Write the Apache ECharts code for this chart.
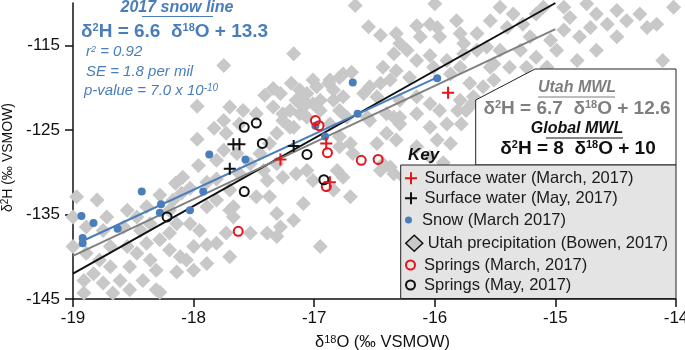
<!DOCTYPE html>
<html>
<head>
<meta charset="utf-8">
<script src="https://cdn.jsdelivr.net/npm/echarts@6/dist/echarts.min.js"></script>
<style>
  html, body { margin: 0; padding: 0; background: #fff; }
  #chart { width: 685px; height: 350px; }
</style>
</head>
<body>
<div id="chart"></div>
<script>
// δ18O, δ2H pairs (‰ VSMOW)
const utahPrecip = [
  [-17.97,-122.2],[-17.75,-123.9],[-17.83,-124.8],[-17.97,-126.1],[-17.73,-125.4],[-17.75,-127.4],
  [-17.96,-129.2],[-17.81,-128.6],[-18.09,-130.6],[-18.15,-131.3],[-18.03,-131.9],[-17.89,-131.2],
  [-17.81,-130.8],[-17.70,-132.1],[-18.97,-132.9],[-18.80,-133.3],[-18.72,-135.3],[-18.55,-134.5],
  [-18.47,-135.3],[-18.39,-134.1],[-18.28,-132.7],[-18.17,-133.3],[-18.10,-132.5],[-18.20,-134.5],
  [-17.89,-134.1],[-17.81,-133.3],[-17.67,-134.1],[-19.00,-135.3],[-18.89,-136.5],[-18.75,-136.9],
  [-18.58,-136.5],[-18.44,-136.9],[-18.36,-136.1],[-18.14,-136.1],[-18.03,-136.1],[-17.95,-136.9],
  [-17.89,-138.6],[-17.81,-138.4],[-17.73,-137.2],[-17.70,-140.0],[-19.00,-138.8],[-18.89,-139.6],
  [-18.78,-140.4],[-18.69,-138.8],[-18.55,-138.8],[-18.47,-139.6],[-18.39,-138.4],[-18.28,-138.0],
  [-18.20,-139.2],[-18.11,-140.0],[-18.00,-138.8],[-18.20,-137.2],[-18.36,-140.4],[-18.53,-141.2],
  [-18.69,-141.2],[-18.91,-142.8],[-18.83,-142.0],[-18.75,-143.1],[-18.61,-142.8],[-18.53,-143.9],
  [-18.42,-142.8],[-18.31,-141.6],[-18.14,-141.8],[-18.00,-141.6],[-17.89,-140.8],[-18.06,-140.4],
  [-18.91,-144.3],[-18.67,-144.3],[-18.31,-143.9],[-18.28,-144.2],[-17.70,-134.5],
  [-17.09,-122.3],[-17.01,-121.9],[-17.26,-123.9],[-17.17,-124.7],[-17.31,-125.4],[-17.37,-126.6],
  [-17.45,-127.8],[-17.53,-129.0],[-17.64,-127.8],[-17.62,-130.2],[-17.42,-129.8],[-17.31,-129.0],
  [-17.39,-131.0],[-17.26,-130.6],[-17.15,-130.2],[-17.06,-129.8],[-17.01,-131.0],[-16.81,-129.8],
  [-16.76,-130.6],[-16.84,-132.1],[-16.70,-132.9],[-17.48,-132.9],[-17.37,-132.9],[-17.31,-134.9],
  [-17.17,-135.7],[-17.28,-136.5],[-17.09,-133.7],[-17.39,-137.2],[-17.53,-137.2],[-17.31,-137.6],
  [-17.67,-135.3],[-16.95,-138.8],[-16.79,-127.0],[-16.70,-126.6],[-16.68,-127.8],[-16.79,-125.8],
  [-16.40,-125.4],[-16.32,-126.2],[-16.29,-124.3],[-16.34,-123.5],[-16.54,-123.9],[-16.73,-123.5],
  [-16.87,-124.3],[-16.48,-126.6],[-16.37,-129.4],[-16.45,-129.8],[-16.26,-130.6],[-17.70,-122.3],
  [-17.62,-124.3],[-17.48,-123.1],[-17.15,-121.5],
  [-16.66,-110.3],[-16.00,-110.1],[-16.55,-112.8],[-16.45,-113.8],[-16.32,-113.6],[-16.29,-114.8],
  [-16.15,-112.7],[-16.12,-114.0],[-15.98,-112.9],[-15.96,-114.0],[-15.82,-112.1],[-15.79,-113.6],
  [-15.76,-114.8],[-16.34,-116.0],[-16.23,-115.6],[-16.15,-116.8],[-16.04,-116.2],[-16.01,-117.6],
  [-15.90,-116.8],[-15.87,-118.4],[-15.79,-117.6],[-15.76,-116.0],[-15.65,-113.6],[-15.65,-115.6],
  [-15.71,-119.5],[-15.68,-121.1],[-15.79,-121.5],[-15.57,-115.2],[-15.54,-117.6],[-16.43,-117.6],
  [-16.32,-118.0],[-16.21,-118.8],[-16.37,-119.1],[-16.45,-119.5],[-16.54,-119.9],[-16.59,-120.7],
  [-16.76,-118.4],[-16.87,-119.1],[-16.98,-119.9],[-17.06,-120.7],[-16.84,-120.3],[-16.76,-121.1],
  [-16.48,-121.1],[-16.29,-121.5],[-16.15,-121.1],[-16.04,-121.9],[-15.96,-122.7],[-16.29,-123.5],
  [-16.15,-123.1],[-16.40,-123.1],[-16.56,-123.5],[-17.09,-121.5],[-17.12,-123.1],[-15.90,-124.3],
  [-15.74,-122.7],
  [-15.46,-110.5],[-15.35,-111.3],[-15.54,-112.1],[-15.40,-112.9],[-15.27,-112.5],[-15.16,-111.3],
  [-15.10,-110.5],[-14.93,-110.5],[-14.88,-111.7],[-14.74,-110.1],[-14.66,-111.3],[-14.49,-110.9],
  [-14.41,-112.1],[-14.30,-111.3],[-14.24,-112.9],[-14.16,-112.5],[-14.02,-110.5],[-14.71,-112.9],
  [-14.57,-112.5],[-14.49,-114.0],[-14.80,-114.0],[-14.93,-113.2],[-15.04,-114.4],[-15.21,-114.0],
  [-15.29,-115.6],[-15.46,-115.6],[-15.51,-117.2],[-15.38,-117.6],[-15.24,-117.6],[-14.82,-116.8],
  [-14.11,-116.8],[-15.51,-119.1],[-15.60,-119.9],[-15.51,-121.1],[-15.07,-117.6],[-15.16,-116.4],
  [-14.99,-115.6],[-14.66,-115.6],
  [-17.75,-117.4],[-17.17,-116.0],[-17.34,-120.1],[-17.41,-120.9],[-17.28,-120.7],[-17.19,-119.5],
  [-17.12,-120.3],[-17.01,-119.1],[-16.88,-119.5],[-16.79,-118.8],[-16.69,-118.2],[-17.20,-122.7],
  [-17.06,-123.5],[-16.95,-122.7],[-16.79,-122.7],[-16.84,-121.5],[-16.95,-121.5],[-17.26,-123.1],
  [-17.20,-124.7],[-17.59,-122.7],[-17.34,-122.3],[-16.04,-112.5],
  [-16.43,-129.0],[-16.34,-130.2],[-15.81,-122.7],[-15.69,-121.9],[-15.78,-124.3],[-16.04,-124.7],
  [-16.15,-127.0],[-15.98,-126.2],[-15.87,-126.6],[-16.04,-128.2],[-15.93,-128.9]
];

const snow = [
  [-18.93,-135.2],[-18.83,-136.0],[-18.92,-137.8],[-18.92,-138.4],[-18.63,-136.7],[-18.43,-132.3],
  [-18.27,-133.8],[-18.28,-134.8],[-18.03,-134.5],[-17.92,-132.3],[-17.87,-127.9],[-17.57,-128.5],
  [-16.91,-125.8],[-16.99,-124.5],[-16.64,-123.1],[-16.68,-119.4],[-15.98,-118.9]
];
const surfaceMarch = [[-17.28,-128.5],[-16.90,-126.6],[-15.89,-120.6],[-16.87,-131.2]];
const surfaceMay = [[-17.67,-126.7],[-17.62,-126.7],[-17.70,-129.6],[-17.17,-126.9]];
const springsMarch = [
  [-16.99,-123.9],[-16.96,-124.5],[-16.89,-127.7],[-16.61,-128.6],[-16.47,-128.5],
  [-16.90,-131.7],[-17.63,-137.0]
];
const springsMay = [
  [-17.58,-124.7],[-17.48,-124.2],[-17.43,-126.6],[-17.06,-127.9],[-16.92,-130.9],
  [-17.58,-132.3],[-18.22,-135.3]
];

// regression / meteoric water line end points
const globalMWL = [[-19, -142], [-15, -110]];
const utahMWL = [[-19, -139.9], [-15, -113.1]];
const snowLine = [[-18.93, -138.2], [-15.98, -118.8]];

const xTicks = [-19, -18, -17, -16, -15, -14];
const yTicks = [-145, -135, -125, -115];

const FONT = '"Liberation Sans", Arial, sans-serif';
const BLUE = '#4a7ebb';
const RED = '#e3141c';
const BLACK = '#111111';
const GREY = '#c8c8c8';
const PLUS = 'path://M5,0h2v5h5v2h-5v5h-2v-5h-5v-2h5z';

const chart = echarts.init(document.getElementById('chart'), null, { renderer: 'canvas' });

const legendItem = (name, top, h, extra) => Object.assign({
  show: true,
  orient: 'vertical',
  left: 405,
  top: top,
  padding: 0,
  itemWidth: 17,
  itemHeight: h,
  z: 300,
  selectedMode: false,
  textStyle: { fontSize: 16.5, fontFamily: FONT, color: '#1a1a1a', lineHeight: 18 },
  data: [name]
}, extra || {});

const option = {
  backgroundColor: '#fff',
  animation: false,
  textStyle: { fontFamily: FONT },
  grid: { left: 73, right: 9, top: 3, bottom: 51, containLabel: false, outerBoundsMode: 'none' },
  xAxis: {
    type: 'value',
    min: -19, max: -14, interval: 1,
    name: '{a|δ}{s|18}{a|O (‰ VSMOW)}',
    nameLocation: 'middle',
    nameGap: 35,
    nameTextStyle: {
      padding: [0, 0, 0, 16],
      rich: {
        a: { fontSize: 16.5, fontFamily: FONT, color: BLACK },
        s: { fontSize: 11, fontFamily: FONT, color: BLACK, verticalAlign: 'top', padding: [0, 0, 6, 0] }
      }
    },
    axisLine: { show: true, onZero: false, lineStyle: { color: BLACK, width: 1.5 } },
    axisTick: { show: true, inside: false, length: 8, customValues: xTicks, lineStyle: { color: BLACK, width: 1.5 } },
    axisLabel: { customValues: xTicks, fontSize: 17, fontFamily: FONT, color: BLACK, margin: 11, hideOverlap: false },
    splitLine: { show: false }
  },
  yAxis: {
    type: 'value',
    min: -145, max: -110, interval: 10,
    name: '{a|δ}{s|2}{a|H (‰ VSMOW)}',
    nameLocation: 'middle',
    nameGap: 50,
    nameTextStyle: {
      padding: [0, 13, 0, 0],
      rich: {
        a: { fontSize: 14, fontFamily: FONT, color: BLACK },
        s: { fontSize: 10, fontFamily: FONT, color: BLACK, verticalAlign: 'top', padding: [0, 0, 5, 0] }
      }
    },
    axisLine: { show: true, onZero: false, lineStyle: { color: BLACK, width: 1.5 } },
    axisTick: { show: true, inside: false, length: 8, customValues: yTicks, lineStyle: { color: BLACK, width: 1.5 } },
    axisLabel: { customValues: yTicks, fontSize: 17, fontFamily: FONT, color: BLACK, margin: 13 },
    splitLine: { show: false }
  },
  legend: [
    legendItem('Surface water (March, 2017)', 169.3, 12),
    legendItem('Surface water (May, 2017)', 189.3, 12),
    legendItem('Snow (March 2017)', 211, 7),
    legendItem('Utah precipitation (Bowen, 2017)', 234.3, 16, {
      data: [{ name: 'Utah precipitation (Bowen, 2017)', itemStyle: { color: GREY, borderColor: BLACK, borderWidth: 1.5, opacity: 1 } }]
    }),
    legendItem('Springs (March, 2017)', 256, 9),
    legendItem('Springs (May, 2017)', 276, 9)
  ],
  graphic: [
    // equation box
    {
      type: 'polygon', z: 100,
      shape: { points: [[535, 69], [676, 69], [676, 165], [475.7, 165], [475.7, 100]] },
      style: { fill: '#ffffff', stroke: '#222', lineWidth: 1 }
    },
    // key box
    {
      type: 'rect', z: 100,
      shape: { x: 400.7, y: 165, width: 275.3, height: 133.5 },
      style: { fill: '#e4e4e4', stroke: '#222', lineWidth: 1 }
    },
    {
      type: 'text', z: 110, x: 408, y: 155,
      style: { text: 'Key', font: 'italic bold 17px ' + FONT, fill: BLACK, align: 'left', verticalAlign: 'middle' }
    },
    {
      type: 'text', z: 110, x: 577, y: 88,
      style: { text: 'Utah MWL', font: 'italic bold 16px ' + FONT, fill: '#7f7f7f', align: 'center', verticalAlign: 'middle' }
    },
    { type: 'line', z: 110, shape: { x1: 538, y1: 97, x2: 615, y2: 97 }, style: { stroke: '#7f7f7f', lineWidth: 1.2 } },
    {
      type: 'text', z: 110, x: 577, y: 109,
      style: {
        text: '{a|δ}{s|2}{a|H = 6.7  δ}{s|18}{a|O + 12.6}', align: 'center', verticalAlign: 'middle',
        rich: {
          a: { font: 'bold 19px ' + FONT, fill: '#7f7f7f', color: '#7f7f7f' },
          s: { font: 'bold 11px ' + FONT, fill: '#7f7f7f', color: '#7f7f7f', verticalAlign: 'top' }
        }
      }
    },
    {
      type: 'text', z: 110, x: 577, y: 129,
      style: { text: 'Global MWL', font: 'italic bold 16px ' + FONT, fill: BLACK, align: 'center', verticalAlign: 'middle' }
    },
    { type: 'line', z: 110, shape: { x1: 546, y1: 138, x2: 623, y2: 138 }, style: { stroke: BLACK, lineWidth: 1.2 } },
    {
      type: 'text', z: 110, x: 578, y: 149,
      style: {
        text: '{a|δ}{s|2}{a|H = 8  δ}{s|18}{a|O + 10}', align: 'center', verticalAlign: 'middle',
        rich: {
          a: { font: 'bold 19px ' + FONT, fill: BLACK, color: BLACK },
          s: { font: 'bold 11px ' + FONT, fill: BLACK, color: BLACK, verticalAlign: 'top' }
        }
      }
    },
    // snow line annotation
    {
      type: 'text', z: 110, x: 177, y: 8,
      style: { text: '2017 snow line', font: 'italic bold 16px ' + FONT, fill: BLUE, align: 'center', verticalAlign: 'middle' }
    },
    { type: 'line', z: 110, shape: { x1: 142, y1: 16.5, x2: 213, y2: 16.5 }, style: { stroke: BLUE, lineWidth: 1.2 } },
    {
      type: 'text', z: 110, x: 81, y: 32,
      style: {
        text: '{a|δ}{s|2}{a|H = 6.6  δ}{s|18}{a|O + 13.3}', align: 'left', verticalAlign: 'middle',
        rich: {
          a: { font: 'bold 19px ' + FONT, fill: BLUE, color: BLUE },
          s: { font: 'bold 11px ' + FONT, fill: BLUE, color: BLUE, verticalAlign: 'top' }
        }
      }
    },
    {
      type: 'text', z: 110, x: 86, y: 52,
      style: {
        text: '{a|r}{s|2}{a| = 0.92}', align: 'left', verticalAlign: 'middle',
        rich: {
          a: { font: 'italic 15px ' + FONT, fill: BLUE, color: BLUE },
          s: { font: 'italic 9px ' + FONT, fill: BLUE, color: BLUE, verticalAlign: 'top' }
        }
      }
    },
    {
      type: 'text', z: 110, x: 86, y: 72,
      style: { text: 'SE = 1.8 per mil', font: 'italic 15px ' + FONT, fill: BLUE, align: 'left', verticalAlign: 'middle' }
    },
    {
      type: 'text', z: 110, x: 84, y: 91,
      style: {
        text: '{a|p-value = 7.0 x 10}{s|-10}', align: 'left', verticalAlign: 'middle',
        rich: {
          a: { font: 'italic 15px ' + FONT, fill: BLUE, color: BLUE },
          s: { font: 'italic 10px ' + FONT, fill: BLUE, color: BLUE, verticalAlign: 'top' }
        }
      }
    }
  ],
  series: [
    {
      name: 'Utah precipitation (Bowen, 2017)', type: 'scatter', z: 1,
      symbol: 'diamond', symbolSize: 15,
      itemStyle: { color: GREY, opacity: 1 },
      data: utahPrecip
    },
    {
      name: 'Global MWL', type: 'line', z: 2, showSymbol: false, symbol: 'none',
      lineStyle: { color: BLACK, width: 2 }, data: globalMWL
    },
    {
      name: 'Utah MWL', type: 'line', z: 2, showSymbol: false, symbol: 'none',
      lineStyle: { color: '#808080', width: 2 }, data: utahMWL
    },
    {
      name: 'Snow line', type: 'line', z: 2, showSymbol: false, symbol: 'none',
      lineStyle: { color: BLUE, width: 2 }, data: snowLine
    },
    {
      name: 'Snow (March 2017)', type: 'scatter', z: 3,
      symbol: 'circle', symbolSize: 8,
      itemStyle: { color: BLUE, opacity: 1 },
      data: snow
    },
    {
      name: 'Springs (March, 2017)', type: 'scatter', z: 4,
      symbol: 'circle', symbolSize: 9,
      itemStyle: { color: 'rgba(255,255,255,0)', borderColor: RED, borderWidth: 2, opacity: 1 },
      data: springsMarch
    },
    {
      name: 'Springs (May, 2017)', type: 'scatter', z: 4,
      symbol: 'circle', symbolSize: 9,
      itemStyle: { color: 'rgba(255,255,255,0)', borderColor: BLACK, borderWidth: 2, opacity: 1 },
      data: springsMay
    },
    {
      name: 'Surface water (March, 2017)', type: 'scatter', z: 5,
      symbol: PLUS, symbolSize: 12,
      itemStyle: { color: RED, opacity: 1 },
      data: surfaceMarch
    },
    {
      name: 'Surface water (May, 2017)', type: 'scatter', z: 5,
      symbol: PLUS, symbolSize: 12,
      itemStyle: { color: BLACK, opacity: 1 },
      data: surfaceMay
    }
  ]
};

chart.setOption(option);
</script>
</body>
</html>
